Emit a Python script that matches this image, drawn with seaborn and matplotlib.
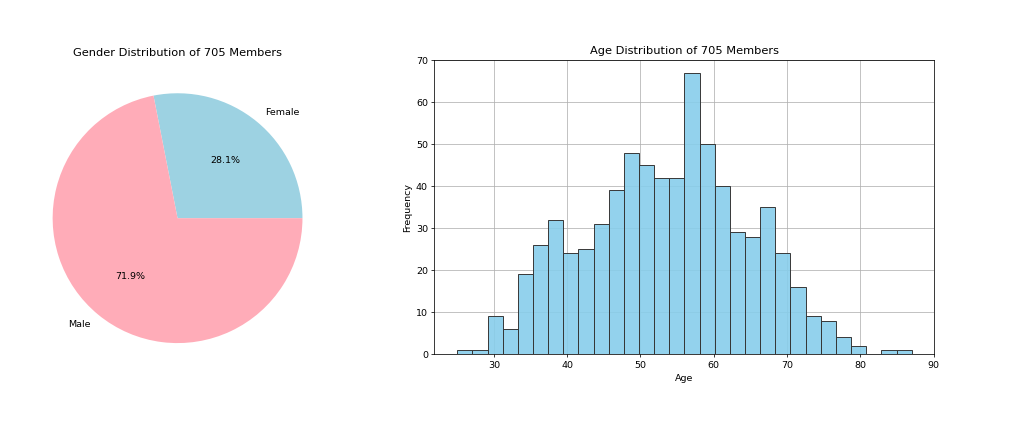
import numpy as np
import matplotlib
matplotlib.use("Agg")
import matplotlib.pyplot as plt
import seaborn as sns

# gender split
genders = ["Female", "Male"]
gender_counts = [198, 507]
gender_colors = ["#9dd2e2", "#ffacb8"]

# age histogram, 30 bins between min and max age
age_min, age_max = 25, 87
n_bins = 30
age_counts = [1, 1, 9, 6, 19, 26, 32, 24, 25, 31,
              39, 48, 45, 42, 42, 67, 50, 40, 29, 28,
              35, 24, 16, 9, 8, 4, 2, 0, 1, 1]

total = sum(gender_counts)

dpi = 68
fig = plt.figure(figsize=(1014 / dpi, 422 / dpi), dpi=dpi)

# pie
ax1 = fig.add_axes([0.0211, 0.113, 0.308, 0.740])
ax1.pie(gender_counts, labels=genders, colors=gender_colors,
        autopct='%1.1f%%', startangle=0)
ax1.set_title(f"Gender Distribution of {total} Members")

# histogram
ax2 = fig.add_axes([0.4285, 0.1604, 0.493, 0.6974])
edges = np.linspace(age_min, age_max, n_bins + 1)
centers = (edges[:-1] + edges[1:]) / 2
sns.histplot(x=centers, weights=age_counts, bins=n_bins,
             binrange=(age_min, age_max), color="skyblue",
             edgecolor="#333333", alpha=0.9, ax=ax2)
ax2.set_axisbelow(True)
ax2.grid(True)
ax2.set_xlim(21.9, 90.1)
ax2.set_ylim(0, 70)
ax2.set_title(f"Age Distribution of {total} Members")
ax2.set_xlabel("Age")
ax2.set_ylabel("Frequency")

fig.savefig("out.png", dpi=dpi)
